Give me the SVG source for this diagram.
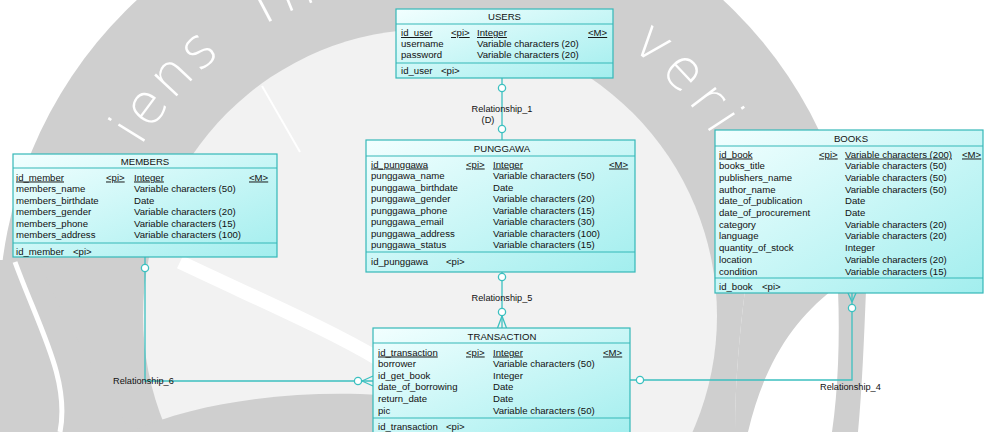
<svg xmlns="http://www.w3.org/2000/svg" width="984" height="432" viewBox="0 0 984 432">
  <defs>
    <linearGradient id="entityFill" x1="0" y1="0" x2="1" y2="1">
      <stop offset="0" stop-color="#f2ffff"/>
      <stop offset="1" stop-color="#a2eeee"/>
    </linearGradient>
    <path id="mottoArc" d="M115.2,201.4 A335,335 0 0 1 744.8,201.4"/>
    <clipPath id="frame"><rect x="0" y="0" width="984" height="432"/></clipPath>
  </defs>
  <style>
    text { font-family: "Liberation Sans", Arial, sans-serif; font-size: 9.6px; fill: #111; }
    .title { text-anchor: middle; }
    .pk { text-decoration: underline; }
    .rel { font-size: 9.2px; }
    .box { fill: url(#entityFill); stroke: #35b8b8; stroke-width: 1.2; }
    .sep { stroke: #35b8b8; stroke-width: 1.2; }
    .link { fill: none; stroke: #3cc0c0; stroke-width: 1.3; }
    .opt { fill: #ffffff; stroke: #3cc0c0; stroke-width: 1.3; }
    .motto { font-family: "DejaVu Sans", sans-serif; font-weight: 200; font-size: 56px; fill: #ffffff; }
  </style>

  <rect width="984" height="432" fill="#ffffff"/>

  <!-- background seal -->
  <g id="seal" clip-path="url(#frame)">
    <circle cx="430" cy="316" r="431" fill="#cfcfcf"/>
    <circle cx="430" cy="316" r="287" fill="#f2f2f2"/>
    <path d="M262,86 L300,152" stroke="#ffffff" stroke-width="2" fill="none"/>
    <!-- lower right cut of the ring -->
    <path d="M745,290 L980,290 L980,432 L735,432 C735,380 740,330 745,290 Z" fill="#ffffff"/>
    <path d="M745,290 L832,290 C795,320 765,360 748,432 L735,432 C735,380 740,330 745,290 Z" fill="#cfcfcf"/>
    <path d="M838,290 L866,290 C864,340 862,390 858,432 L832,432 C838,390 840,340 838,290 Z" fill="#cfcfcf"/>
    <!-- lower left wing -->
    <path d="M0,260 L40,260 C60,320 110,390 130,432 L0,432 Z" fill="#cfcfcf"/>
    <path d="M15,262 C40,330 70,380 60,432" stroke="#ffffff" stroke-width="5" fill="none"/>
    <path d="M130,432 C200,400 300,390 380,395 L380,432 Z" fill="#cfcfcf"/>
    <path d="M180,262 C260,300 330,330 380,360" stroke="#ffffff" stroke-width="14" fill="none"/>
    <text class="motto" letter-spacing="3"><textPath href="#mottoArc" startOffset="60">iens</textPath></text>
    <text class="motto" letter-spacing="8"><textPath href="#mottoArc" startOffset="235">In</textPath></text>
    <text class="motto" letter-spacing="6"><textPath href="#mottoArc" startOffset="622">veri</textPath></text>
  </g>

  <!-- relationships -->
  <g id="connectors">
    <!-- Relationship_1: USERS - PUNGGAWA -->
    <line class="link" x1="502" y1="78" x2="502" y2="140"/>
    <circle class="opt" cx="502" cy="88" r="3.6"/>
    <circle class="opt" cx="502" cy="129" r="3.6"/>
    <text class="rel" x="502" y="112" text-anchor="middle">Relationship_1</text>
    <text class="rel" x="488" y="122.5" text-anchor="middle">(D)</text>

    <!-- Relationship_5: PUNGGAWA - TRANSACTION -->
    <line class="link" x1="502" y1="272" x2="502" y2="328"/>
    <circle class="opt" cx="502" cy="277" r="3.6"/>
    <circle class="opt" cx="502" cy="312" r="3.6"/>
    <path class="link" d="M502,316 L497.5,328 M502,316 L506.5,328"/>
    <text class="rel" x="502" y="301" text-anchor="middle">Relationship_5</text>

    <!-- Relationship_6: MEMBERS - TRANSACTION -->
    <path class="link" d="M145,257 V381 H373"/>
    <circle class="opt" cx="145" cy="268" r="3.6"/>
    <circle class="opt" cx="358" cy="381" r="3.6"/>
    <path class="link" d="M362,381 L373,376 M362,381 L373,386"/>
    <text class="rel" x="113" y="384">Relationship_6</text>

    <!-- Relationship_4: BOOKS - TRANSACTION -->
    <path class="link" d="M852,293 V380 H630"/>
    <path class="link" d="M852,302 L848,293 M852,302 L856,293"/>
    <circle class="opt" cx="852" cy="308" r="3.6"/>
    <circle class="opt" cx="640" cy="380" r="3.6"/>
    <text class="rel" x="820" y="390">Relationship_4</text>
  </g>

  <!-- USERS -->
  <g id="users">
    <rect class="box" x="396" y="9" width="217" height="69"/>
    <line class="sep" x1="396" y1="24" x2="613" y2="24"/>
    <line class="sep" x1="396" y1="63" x2="613" y2="63"/>
    <text class="title" x="504.5" y="20">USERS</text>
    <text class="pk" x="401" y="36">id_user</text>
    <text class="pk" x="451" y="36">&lt;pi&gt;</text>
    <text class="pk" x="477" y="36">Integer</text>
    <text class="pk" x="588" y="36">&lt;M&gt;</text>
    <text x="401" y="47">username</text>
    <text x="477" y="47">Variable characters (20)</text>
    <text x="401" y="58">password</text>
    <text x="477" y="58">Variable characters (20)</text>
    <text x="401" y="74">id_user</text>
    <text x="441" y="74">&lt;pi&gt;</text>
  </g>

  <!-- PUNGGAWA -->
  <g id="punggawa">
    <rect class="box" x="366" y="140" width="269" height="132"/>
    <line class="sep" x1="366" y1="156" x2="635" y2="156"/>
    <line class="sep" x1="366" y1="252" x2="635" y2="252"/>
    <text class="title" x="502" y="151.5">PUNGGAWA</text>
    <text class="pk" x="371" y="167.5">id_punggawa</text>
    <text class="pk" x="466" y="167.5">&lt;pi&gt;</text>
    <text class="pk" x="493" y="167.5">Integer</text>
    <text class="pk" x="609" y="167.5">&lt;M&gt;</text>
    <text x="371" y="179">punggawa_name</text>
    <text x="493" y="179">Variable characters (50)</text>
    <text x="371" y="190.5">punggawa_birthdate</text>
    <text x="493" y="190.5">Date</text>
    <text x="371" y="202">punggawa_gender</text>
    <text x="493" y="202">Variable characters (20)</text>
    <text x="371" y="213.5">punggawa_phone</text>
    <text x="493" y="213.5">Variable characters (15)</text>
    <text x="371" y="225">punggawa_email</text>
    <text x="493" y="225">Variable characters (30)</text>
    <text x="371" y="236.5">punggawa_address</text>
    <text x="493" y="236.5">Variable characters (100)</text>
    <text x="371" y="248">punggawa_status</text>
    <text x="493" y="248">Variable characters (15)</text>
    <text x="371" y="264.5">id_punggawa</text>
    <text x="446" y="264.5">&lt;pi&gt;</text>
  </g>

  <!-- MEMBERS -->
  <g id="members">
    <rect class="box" x="13" y="154" width="264" height="103"/>
    <line class="sep" x1="13" y1="168" x2="277" y2="168"/>
    <line class="sep" x1="13" y1="243" x2="277" y2="243"/>
    <text class="title" x="145" y="164.5">MEMBERS</text>
    <text class="pk" x="16" y="180.5">id_member</text>
    <text class="pk" x="106" y="180.5">&lt;pi&gt;</text>
    <text class="pk" x="134" y="180.5">Integer</text>
    <text class="pk" x="249" y="180.5">&lt;M&gt;</text>
    <text x="16" y="192">members_name</text>
    <text x="134" y="192">Variable characters (50)</text>
    <text x="16" y="203.5">members_birthdate</text>
    <text x="134" y="203.5">Date</text>
    <text x="16" y="215">members_gender</text>
    <text x="134" y="215">Variable characters (20)</text>
    <text x="16" y="226.5">members_phone</text>
    <text x="134" y="226.5">Variable characters (15)</text>
    <text x="16" y="238">members_address</text>
    <text x="134" y="238">Variable characters (100)</text>
    <text x="16" y="254.5">id_member</text>
    <text x="73" y="254.5">&lt;pi&gt;</text>
  </g>

  <!-- BOOKS -->
  <g id="books">
    <rect class="box" x="715" y="130" width="268" height="163"/>
    <line class="sep" x1="715" y1="146" x2="983" y2="146"/>
    <line class="sep" x1="715" y1="278" x2="983" y2="278"/>
    <text class="title" x="851" y="141.5">BOOKS</text>
    <text class="pk" x="719" y="157.5">id_book</text>
    <text class="pk" x="819" y="157.5">&lt;pi&gt;</text>
    <text class="pk" x="845" y="157.5">Variable characters (200)</text>
    <text class="pk" x="962" y="157.5">&lt;M&gt;</text>
    <text x="719" y="169.2">books_title</text>
    <text x="845" y="169.2">Variable characters (50)</text>
    <text x="719" y="180.9">publishers_name</text>
    <text x="845" y="180.9">Variable characters (50)</text>
    <text x="719" y="192.6">author_name</text>
    <text x="845" y="192.6">Variable characters (50)</text>
    <text x="719" y="204.3">date_of_publication</text>
    <text x="845" y="204.3">Date</text>
    <text x="719" y="216">date_of_procurement</text>
    <text x="845" y="216">Date</text>
    <text x="719" y="227.7">category</text>
    <text x="845" y="227.7">Variable characters (20)</text>
    <text x="719" y="239.4">language</text>
    <text x="845" y="239.4">Variable characters (20)</text>
    <text x="719" y="251.1">quantity_of_stock</text>
    <text x="845" y="251.1">Integer</text>
    <text x="719" y="262.8">location</text>
    <text x="845" y="262.8">Variable characters (20)</text>
    <text x="719" y="274.5">condition</text>
    <text x="845" y="274.5">Variable characters (15)</text>
    <text x="719" y="289.5">id_book</text>
    <text x="762" y="289.5">&lt;pi&gt;</text>
  </g>

  <!-- TRANSACTION -->
  <g id="transaction">
    <rect class="box" x="373" y="328" width="257" height="110"/>
    <line class="sep" x1="373" y1="343" x2="630" y2="343"/>
    <line class="sep" x1="373" y1="418" x2="630" y2="418"/>
    <text class="title" x="502" y="339.5">TRANSACTION</text>
    <text class="pk" x="378" y="355.5">id_transaction</text>
    <text class="pk" x="466" y="355.5">&lt;pi&gt;</text>
    <text class="pk" x="493" y="355.5">Integer</text>
    <text class="pk" x="603" y="355.5">&lt;M&gt;</text>
    <text x="378" y="367.1">borrower</text>
    <text x="493" y="367.1">Variable characters (50)</text>
    <text x="378" y="378.7">id_get_book</text>
    <text x="493" y="378.7">Integer</text>
    <text x="378" y="390.3">date_of_borrowing</text>
    <text x="493" y="390.3">Date</text>
    <text x="378" y="401.9">return_date</text>
    <text x="493" y="401.9">Date</text>
    <text x="378" y="413.5">pic</text>
    <text x="493" y="413.5">Variable characters (50)</text>
    <text x="378" y="429.5">id_transaction</text>
    <text x="446" y="429.5">&lt;pi&gt;</text>
  </g>
</svg>
